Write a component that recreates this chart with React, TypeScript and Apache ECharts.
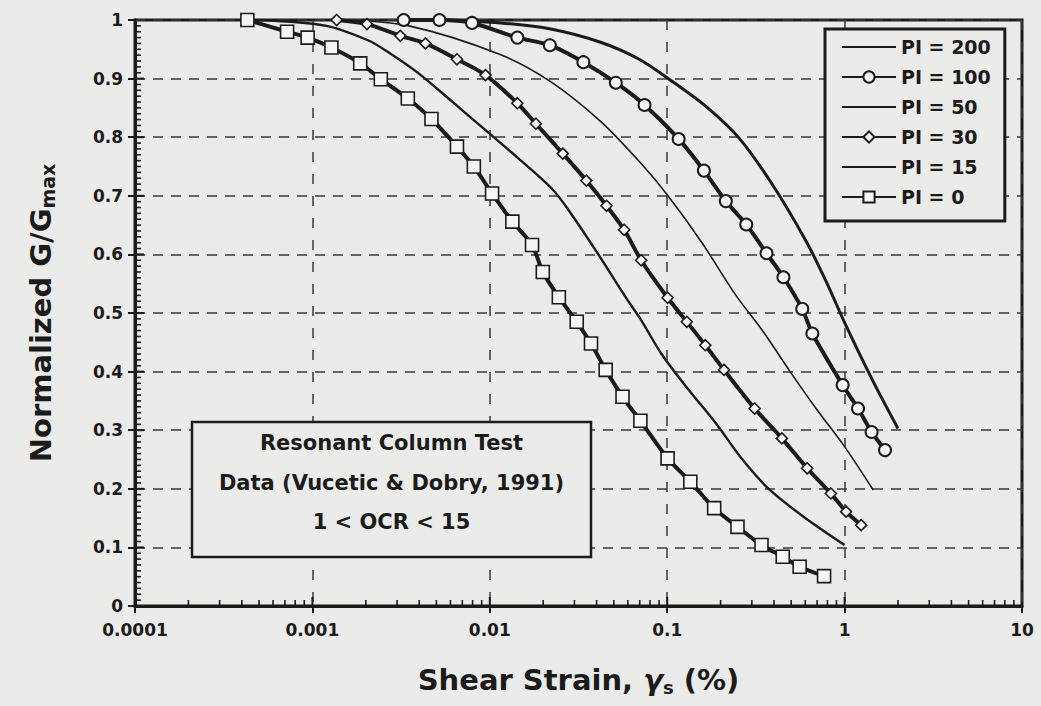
import React, { useEffect, useRef } from "react";
import * as echarts from "echarts";

// Axis tick labels
const xTickLabels = ["0.0001", "0.001", "0.01", "0.1", "1", "10"];
const yTickLabels = ["0", "0.1", "0.2", "0.3", "0.4", "0.5", "0.6", "0.7", "0.8", "0.9", "1"];

// Series names (legend order)
const seriesNames = ["PI = 200", "PI = 100", "PI = 50", "PI = 30", "PI = 15", "PI = 0"];

// Shear strain (%) and normalized modulus G/Gmax for each plasticity index
const strainPI200 = [0.005, 0.0115, 0.0217, 0.0421, 0.0695, 0.107, 0.166, 0.255, 0.394, 0.608, 0.789, 1.02, 1.45, 2.0];
const ratioPI200 = [1.0, 0.995, 0.985, 0.962, 0.933, 0.895, 0.852, 0.798, 0.718, 0.622, 0.553, 0.478, 0.383, 0.303];

const strainPI100 = [0.00327, 0.0052, 0.00794, 0.0143, 0.0218, 0.0337, 0.0513, 0.0745, 0.116, 0.161, 0.214, 0.279, 0.363, 0.452, 0.577, 0.658, 0.975, 1.19, 1.42, 1.69];
const ratioPI100 = [1.0, 1.0, 0.995, 0.97, 0.957, 0.928, 0.893, 0.855, 0.797, 0.743, 0.691, 0.651, 0.602, 0.561, 0.507, 0.465, 0.377, 0.337, 0.297, 0.266];

const strainPI50 = [0.0015, 0.0035, 0.01125, 0.0217, 0.0421, 0.0713, 0.101, 0.157, 0.244, 0.348, 0.493, 0.702, 1.0, 1.45];
const ratioPI50 = [1.0, 0.99, 0.942, 0.896, 0.827, 0.755, 0.7, 0.62, 0.53, 0.468, 0.4, 0.334, 0.272, 0.198];

const strainPI30 = [0.00137, 0.00203, 0.00313, 0.00434, 0.00653, 0.00946, 0.0143, 0.0182, 0.0258, 0.035, 0.0455, 0.0572, 0.0713, 0.1005, 0.129, 0.164, 0.209, 0.311, 0.443, 0.615, 0.837, 1.02, 1.24];
const ratioPI30 = [1.0, 0.993, 0.973, 0.96, 0.933, 0.906, 0.858, 0.823, 0.772, 0.726, 0.683, 0.642, 0.59, 0.526, 0.485, 0.445, 0.403, 0.337, 0.286, 0.235, 0.192, 0.161, 0.138];

const strainPI15 = [0.0005, 0.0012, 0.00207, 0.00268, 0.00397, 0.00612, 0.00946, 0.0146, 0.0224, 0.0279, 0.0403, 0.0598, 0.0713, 0.0929, 0.132, 0.188, 0.267, 0.379, 0.589, 1.0];
const ratioPI15 = [1.0, 0.99, 0.965, 0.945, 0.909, 0.861, 0.812, 0.763, 0.712, 0.675, 0.603, 0.522, 0.488, 0.43, 0.369, 0.312, 0.249, 0.198, 0.152, 0.104];

const strainPI0 = [0.00043, 0.00072, 0.00094, 0.00128, 0.00186, 0.00243, 0.00345, 0.00469, 0.00653, 0.00813, 0.0103, 0.0134, 0.0173, 0.0199, 0.0245, 0.0309, 0.0372, 0.045, 0.056, 0.0706, 0.1005, 0.135, 0.184, 0.249, 0.34, 0.448, 0.558, 0.766];
const ratioPI0 = [1.0, 0.98, 0.97, 0.953, 0.926, 0.899, 0.866, 0.831, 0.784, 0.75, 0.704, 0.656, 0.616, 0.57, 0.527, 0.485, 0.448, 0.403, 0.357, 0.316, 0.252, 0.212, 0.167, 0.135, 0.104, 0.084, 0.067, 0.051];

// Annotation text
const noteLines = ["Resonant Column Test", "Data (Vucetic & Dobry, 1991)", "1 < OCR < 15"];

// Tick decoration helpers
const decadeStarts = [0.0001, 0.001, 0.01, 0.1, 1];
const minorMultipliers = [2, 3, 4, 5, 6, 7, 8, 9];
const xMajorInner = [0.001, 0.01, 0.1, 1];

const INK = "#1b1b1b";
const BG = "#ebebea";
const MARK_FILL = "#f5f5f3";
const FONT = "'DejaVu Sans', sans-serif";

const zip = (xs: number[], ys: number[]) => xs.map((x, i) => [x, ys[i]]);

function buildTickData() {
  const data: number[][] = [];
  decadeStarts.forEach((d) => minorMultipliers.forEach((m) => data.push([0, d * m, 0])));
  for (let i = 1; i < 100; i++) {
    if (i % 10 !== 0) data.push([1, 0.0001, i / 100]);
  }
  xMajorInner.forEach((v) => data.push([2, v, 0]));
  for (let i = 1; i < 10; i++) data.push([3, 0.0001, i / 10]);
  return data;
}

// Lines drawn without markers get a bare line in the legend
const plainLines = new Set(["PI = 200", "PI = 50", "PI = 15"]);

export default function App() {
  const ref = useRef<HTMLDivElement>(null);

  useEffect(() => {
    if (!ref.current) return;
    const chart = echarts.init(ref.current, undefined, { renderer: "svg" });

    const lineBase = { type: "line", smooth: 0.3, z: 3 };

    const option: any = {
      animation: false,
      backgroundColor: BG,
      grid: {
        left: 135,
        right: 19,
        top: 20,
        bottom: 100,
        show: true,
        borderColor: INK,
        borderWidth: 3,
        backgroundColor: "transparent",
      },
      xAxis: {
        type: "log",
        logBase: 10,
        min: 0.0001,
        max: 10,
        splitNumber: 5,
        axisLine: { lineStyle: { color: INK, width: 3 } },
        axisTick: { show: true, inside: false, length: 7, lineStyle: { color: INK, width: 2 } },
        axisLabel: {
          margin: 15,
          color: INK,
          fontFamily: FONT,
          fontWeight: "bold",
          fontSize: 17,
          formatter: (v: number) => xTickLabels[Math.round(Math.log10(v)) + 4],
        },
        splitLine: { show: true, lineStyle: { color: "#3a3a3a", width: 1.5, type: [10, 12] } },
        name: "{t|Shear Strain, }{g|γ}{s|s}{t| (%)}",
        nameLocation: "middle",
        nameGap: 58,
        nameTextStyle: {
          rich: {
            t: { fontFamily: FONT, fontWeight: "bold", fontSize: 29, color: INK, lineHeight: 32 },
            g: { fontFamily: FONT, fontWeight: "bold", fontStyle: "italic", fontSize: 29, color: INK, lineHeight: 32 },
            s: { fontFamily: FONT, fontWeight: "bold", fontSize: 18, color: INK, lineHeight: 14, verticalAlign: "bottom" },
          },
        },
      },
      yAxis: {
        type: "value",
        min: 0,
        max: 1,
        interval: 0.1,
        axisLine: { lineStyle: { color: INK, width: 3 } },
        axisTick: { show: true, inside: false, length: 7, lineStyle: { color: INK, width: 2 } },
        axisLabel: {
          margin: 12,
          color: INK,
          fontFamily: FONT,
          fontWeight: "bold",
          fontSize: 17,
          formatter: (v: number) => yTickLabels[Math.round(v * 10)],
        },
        splitLine: { show: true, lineStyle: { color: "#3a3a3a", width: 1.5, type: [10, 8] } },
        name: "{t|Normalized G/G}{s|max}",
        nameLocation: "middle",
        nameGap: 78,
        nameTextStyle: {
          rich: {
            t: { fontFamily: FONT, fontWeight: "bold", fontSize: 29, color: INK, lineHeight: 32 },
            s: { fontFamily: FONT, fontWeight: "bold", fontSize: 19, color: INK, lineHeight: 14, verticalAlign: "bottom" },
          },
        },
      },
      legend: {
        data: seriesNames.map((n) =>
          plainLines.has(n) ? { name: n, itemStyle: { opacity: 0 } } : { name: n }
        ),
        orient: "vertical",
        left: 825,
        top: 29,
        padding: [8, 14, 14, 16],
        itemWidth: 54,
        itemHeight: 14,
        itemGap: 10,
        selectedMode: false,
        backgroundColor: BG,
        borderColor: INK,
        borderWidth: 3,
        textStyle: { fontFamily: FONT, fontWeight: "bold", fontSize: 19, color: INK, lineHeight: 20 },
      },
      graphic: [
        {
          type: "rect",
          z: 50,
          shape: { x: 192, y: 422, width: 399, height: 135 },
          style: { fill: BG, stroke: INK, lineWidth: 2.5 },
        },
        ...noteLines.map((t, i) => ({
          type: "text",
          z: 51,
          x: 391.5,
          y: 443 + i * 39.5,
          style: {
            text: t,
            fill: INK,
            font: `bold 21px ${FONT}`,
            align: "center",
            verticalAlign: "middle",
          },
        })),
      ],
      series: [
        {
          ...lineBase,
          name: seriesNames[0],
          data: zip(strainPI200, ratioPI200),
          symbol: "none",
          lineStyle: { color: INK, width: 3 },
          itemStyle: { color: INK },
        },
        {
          ...lineBase,
          name: seriesNames[1],
          data: zip(strainPI100, ratioPI100),
          symbol: "circle",
          symbolSize: 12,
          lineStyle: { color: INK, width: 4 },
          itemStyle: { color: MARK_FILL, borderColor: INK, borderWidth: 2 },
        },
        {
          ...lineBase,
          name: seriesNames[2],
          data: zip(strainPI50, ratioPI50),
          symbol: "none",
          lineStyle: { color: INK, width: 1.6 },
          itemStyle: { color: INK },
        },
        {
          ...lineBase,
          name: seriesNames[3],
          data: zip(strainPI30, ratioPI30),
          symbol: "diamond",
          symbolSize: 11,
          lineStyle: { color: INK, width: 4 },
          itemStyle: { color: MARK_FILL, borderColor: INK, borderWidth: 1.6 },
        },
        {
          ...lineBase,
          name: seriesNames[4],
          data: zip(strainPI15, ratioPI15),
          symbol: "none",
          lineStyle: { color: INK, width: 2.4 },
          itemStyle: { color: INK },
        },
        {
          ...lineBase,
          name: seriesNames[5],
          data: zip(strainPI0, ratioPI0),
          symbol: "rect",
          symbolSize: 13,
          lineStyle: { color: INK, width: 4 },
          itemStyle: { color: MARK_FILL, borderColor: INK, borderWidth: 1.6 },
        },
        {
          type: "custom",
          name: "ticks",
          silent: true,
          clip: false,
          z: 10,
          encode: { x: 1, y: 2 },
          data: buildTickData(),
          renderItem: (_params: any, api: any) => {
            const kind = api.value(0);
            const p = api.coord([api.value(1), api.value(2)]);
            let shape;
            if (kind === 0) shape = { x1: p[0], y1: p[1], x2: p[0], y2: p[1] - 6 };
            else if (kind === 1) shape = { x1: p[0], y1: p[1], x2: p[0] + 6, y2: p[1] };
            else if (kind === 2) shape = { x1: p[0], y1: p[1], x2: p[0], y2: p[1] - 9 };
            else shape = { x1: p[0], y1: p[1], x2: p[0] + 9, y2: p[1] };
            return {
              type: "line",
              shape,
              style: { stroke: INK, lineWidth: kind >= 2 ? 2 : 1.6 },
            };
          },
        },
      ],
    };

    chart.setOption(option);
    return () => chart.dispose();
  }, []);

  return (
    <div
      ref={ref}
      style={{ position: "fixed", left: 0, top: 0, width: 1041, height: 706, background: BG }}
    />
  );
}
